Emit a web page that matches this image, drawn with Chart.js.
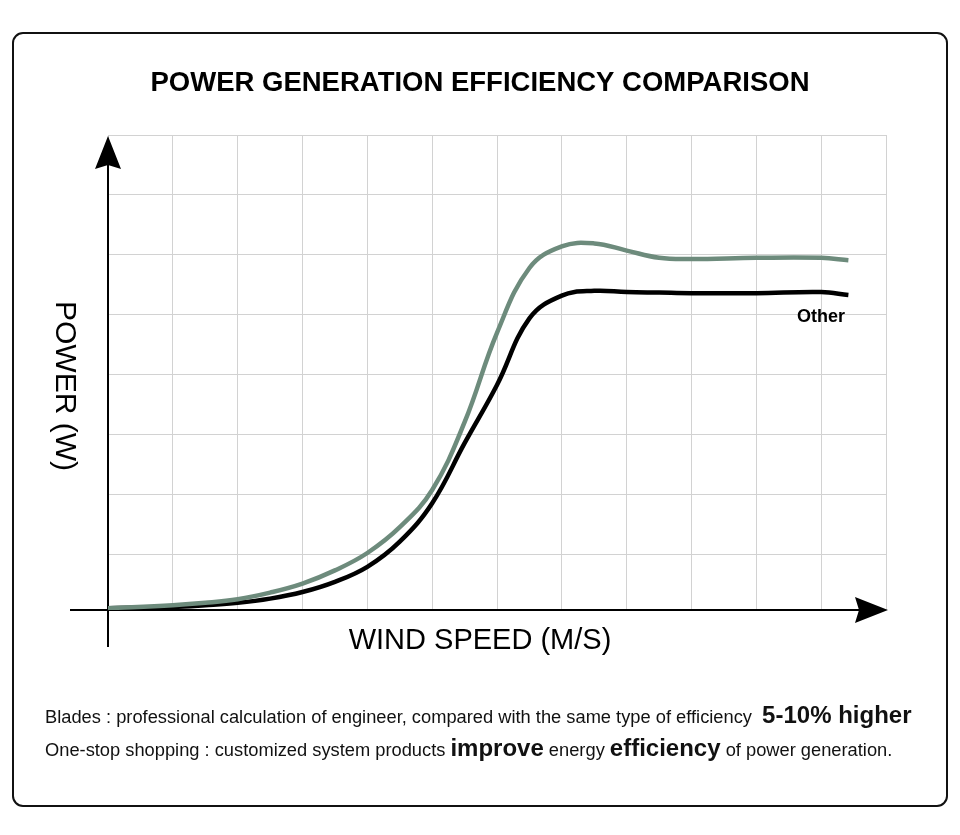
<!DOCTYPE html>
<html>
<head>
<meta charset="utf-8">
<script src="https://cdn.jsdelivr.net/npm/chart.js@4.4.1/dist/chart.umd.min.js"></script>
<style>
    body { margin: 0; background: #ffffff; }
    canvas { display: block; }
</style>
</head>
<body>
<canvas id="graphique-puissance" width="960" height="835"></canvas>
<script>
// wind speed (grid units) and power (grid units)
const vitesses = [0, 1, 1.5, 2, 2.5, 3, 3.5, 4, 4.5, 5, 5.5, 6, 6.5, 7, 7.5, 8, 8.5, 9, 10, 11, 11.42];
const puissanceLame = [0.03, 0.08, 0.12, 0.18, 0.29, 0.44, 0.66, 0.95, 1.38, 2.0, 3.13, 4.62, 5.7, 6.06, 6.11, 5.99, 5.87, 5.85, 5.87, 5.87, 5.83];
const puissanceAutre = [0.03, 0.05, 0.08, 0.12, 0.19, 0.3, 0.47, 0.72, 1.14, 1.78, 2.78, 3.75, 4.86, 5.24, 5.32, 5.3, 5.29, 5.28, 5.28, 5.3, 5.25];

const xMax = 12;
const yMax = 7.9167;
const lignesY = [1, 2, 3, 4, 5, 6, 7, 8];

const titre = 'POWER GENERATION EFFICIENCY COMPARISON';
const titreX = 'WIND SPEED (M/S)';
const titreY = 'POWER (W)';
const etiquetteAutre = 'Other';

function points(xs, ys) {
    const res = [];
    for (let i = 0; i < xs.length; i++) {
        res.push({ x: xs[i], y: ys[i] });
    }
    return res;
}

function fleche(ctx, x, y, dir) {
    // dir: 'up' or 'right'
    ctx.beginPath();
    if (dir === 'up') {
        ctx.moveTo(x, y);
        ctx.lineTo(x + 13, y + 33);
        ctx.lineTo(x, y + 29);
        ctx.lineTo(x - 13, y + 33);
    } else {
        ctx.moveTo(x, y);
        ctx.lineTo(x - 33, y - 13);
        ctx.lineTo(x - 29, y);
        ctx.lineTo(x - 33, y + 13);
    }
    ctx.closePath();
    ctx.fill();
}

function texteMixte(ctx, x, y, morceaux) {
    for (let m of morceaux) {
        ctx.font = m[1];
        ctx.fillText(m[0], x, y);
        x += ctx.measureText(m[0]).width;
    }
}

const decor = {
    id: 'decor',
    beforeDraw(chart) {
        const ctx = chart.ctx;
        ctx.save();
        ctx.fillStyle = '#ffffff';
        ctx.fillRect(0, 0, chart.width, chart.height);
        ctx.strokeStyle = '#111111';
        ctx.lineWidth = 2;
        ctx.beginPath();
        ctx.roundRect(13, 33, 934, 773, 10);
        ctx.stroke();
        ctx.restore();
    },
    beforeDatasetsDraw(chart) {
        const ctx = chart.ctx;
        const x0 = chart.scales.x.getPixelForValue(0);
        const y0 = chart.scales.y.getPixelForValue(0);
        const a = chart.chartArea;
        ctx.save();
        ctx.strokeStyle = '#000000';
        ctx.fillStyle = '#000000';
        ctx.lineWidth = 2;
        ctx.beginPath();
        ctx.moveTo(x0, a.top + 10);
        ctx.lineTo(x0, y0 + 37);
        ctx.moveTo(x0 - 38, y0);
        ctx.lineTo(a.right - 10, y0);
        ctx.stroke();
        fleche(ctx, x0, a.top + 1, 'up');
        fleche(ctx, a.right + 2, y0, 'right');
        ctx.restore();
    },
    afterDraw(chart) {
        const ctx = chart.ctx;
        ctx.save();
        ctx.fillStyle = '#000000';
        ctx.textBaseline = 'alphabetic';

        ctx.textAlign = 'center';
        ctx.font = 'bold 27.5px "Liberation Sans", Arial, sans-serif';
        ctx.fillText(titre, 480, 91);

        ctx.font = '29px "Liberation Sans", Arial, sans-serif';
        ctx.fillText(titreX, 480, 649);

        ctx.save();
        ctx.translate(56, 386);
        ctx.rotate(Math.PI / 2);
        ctx.font = '30px "Liberation Sans", Arial, sans-serif';
        ctx.fillText(titreY, 0, 0);
        ctx.restore();

        ctx.textAlign = 'left';
        ctx.font = 'bold 18px "Liberation Sans", Arial, sans-serif';
        ctx.fillText(etiquetteAutre, 797, 322);

        ctx.fillStyle = '#111111';
        const reg = '18.3px "Liberation Sans", Arial, sans-serif';
        const gras = 'bold 24px "Liberation Sans", Arial, sans-serif';
        texteMixte(ctx, 45, 723, [
            ['Blades : professional calculation of engineer, compared with the same type of efficiency  ', reg],
            ['5-10% higher', gras],
        ]);
        texteMixte(ctx, 45, 756, [
            ['One-stop shopping : customized system products ', reg],
            ['improve', gras],
            [' energy ', reg],
            ['efficiency', gras],
            [' of power generation.', reg],
        ]);
        ctx.restore();
    },
};

const config = {
    type: 'line',
    data: {
        datasets: [
            {
                label: 'Blades',
                data: points(vitesses, puissanceLame),
                borderColor: '#6d8b7c',
                borderWidth: 4.5,
                pointRadius: 0,
                tension: 0.4,
                fill: false,
            },
            {
                label: etiquetteAutre,
                data: points(vitesses, puissanceAutre),
                borderColor: '#000000',
                borderWidth: 4.5,
                pointRadius: 0,
                tension: 0.4,
                fill: false,
            },
        ],
    },
    options: {
        responsive: false,
        animation: false,
        devicePixelRatio: 1,
        layout: {
            padding: { left: 108, right: 74, top: 135, bottom: 225 },
        },
        plugins: {
            legend: { display: false },
            tooltip: { enabled: false },
        },
        scales: {
            x: {
                type: 'linear',
                min: 0,
                max: xMax,
                ticks: { display: false, stepSize: 1 },
                grid: { color: '#d2d2d2', lineWidth: 1, drawTicks: false },
                border: { display: false },
            },
            y: {
                type: 'linear',
                min: 0,
                max: yMax,
                afterBuildTicks: (scale) => {
                    scale.ticks = lignesY.map((v) => ({ value: yMax - 8 + v }));
                },
                ticks: { display: false },
                grid: { color: '#d2d2d2', lineWidth: 1, drawTicks: false },
                border: { display: false },
            },
        },
    },
    plugins: [decor],
};

new Chart(document.querySelector('#graphique-puissance'), config);
</script>
</body>
</html>
